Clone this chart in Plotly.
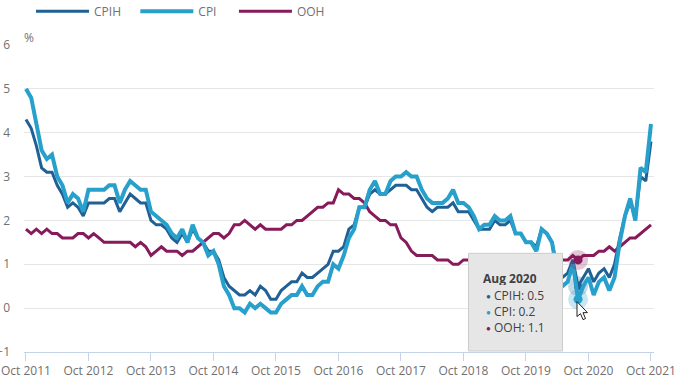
import pandas as pd
import plotly.graph_objects as go

months = pd.date_range("2011-10-01", "2021-10-01", freq="MS").strftime("%b %Y").tolist()
tick_labels = [f"Oct {y}" for y in range(2011, 2022)]

cpih = [4.3,4.1,3.7,3.2,3.1,3.1,2.8,2.6,2.3,2.4,2.3,2.1,2.4,2.4,2.4,
        2.4,2.5,2.5,2.2,2.4,2.6,2.5,2.4,2.4,2.0,1.9,1.9,1.8,1.6,1.5,1.7,1.5,1.8,1.6,1.5,1.3,
        1.3,1.1,0.7,0.5,0.4,0.3,0.3,0.4,0.3,0.5,0.4,0.2,0.2,0.4,0.5,0.6,0.6,0.8,0.7,0.7,0.8,0.9,1.0,1.3,
        1.3,1.4,1.8,1.9,2.3,2.3,2.6,2.7,2.6,2.6,2.7,2.8,2.8,2.8,2.7,2.7,2.5,2.3,2.2,2.3,2.3,2.3,2.4,2.2,
        2.2,2.2,2.0,1.8,1.8,1.8,2.0,1.9,1.9,2.0,1.7,1.7,1.5,1.5,1.4,1.8,1.7,1.5,0.9,0.7,0.8,1.1,0.5,0.7,
        0.9,0.6,0.8,0.9,0.7,1.0,1.6,2.1,2.4,2.1,3.0,2.9,3.8]
cpi = [5.0,4.8,4.2,3.6,3.4,3.5,3.0,2.8,2.4,2.6,2.5,2.2,2.7,2.7,2.7,
       2.7,2.8,2.8,2.4,2.7,2.9,2.8,2.7,2.7,2.2,2.1,2.0,1.9,1.7,1.6,1.8,1.5,1.9,1.6,1.5,1.2,
       1.3,1.0,0.5,0.3,0.0,0.0,-0.1,0.1,0.0,0.1,0.0,-0.1,-0.1,0.1,0.2,0.3,0.3,0.5,0.3,0.3,0.5,0.6,0.6,1.0,
       0.9,1.2,1.6,1.8,2.3,2.3,2.7,2.9,2.6,2.6,2.9,3.0,3.0,3.1,3.0,3.0,2.7,2.5,2.4,2.4,2.4,2.5,2.7,2.4,
       2.4,2.3,2.1,1.8,1.9,1.9,2.1,2.0,2.0,2.1,1.7,1.7,1.5,1.5,1.3,1.8,1.7,1.5,0.8,0.5,0.6,1.0,0.2,0.5,
       0.7,0.3,0.6,0.7,0.4,0.7,1.5,2.1,2.5,2.0,3.2,3.1,4.2]
ooh = [1.8,1.7,1.8,1.7,1.8,1.7,1.7,1.6,1.6,1.6,1.7,1.7,1.6,1.7,1.6,
       1.5,1.5,1.5,1.5,1.5,1.5,1.4,1.5,1.4,1.2,1.3,1.4,1.3,1.3,1.3,1.2,1.3,1.3,1.4,1.5,1.6,
       1.7,1.7,1.6,1.7,1.9,1.9,2.0,1.9,1.8,1.9,1.8,1.8,1.8,1.8,1.9,1.9,2.0,2.0,2.1,2.2,2.3,2.3,2.4,2.4,
       2.7,2.6,2.6,2.5,2.5,2.4,2.2,2.1,2.0,2.0,1.9,1.9,1.6,1.5,1.3,1.2,1.2,1.2,1.2,1.1,1.1,1.1,1.0,1.0,
       1.1,1.1,1.1,1.1,1.1,1.1,1.1,1.1,1.1,1.2,1.2,1.2,1.2,1.2,1.2,1.2,1.2,1.2,1.2,1.1,1.1,1.2,1.1,1.2,
       1.2,1.2,1.3,1.3,1.4,1.3,1.4,1.5,1.6,1.6,1.7,1.8,1.9]

hover_month = "Aug 2020"
idx = months.index(hover_month)
C_CPIH, C_CPI, C_OOH = "#206095", "#27a0cc", "#871a5b"
NB = "\u00a0"

fig = go.Figure()
def add_line(name, vals, col, w, rank):
    fig.add_trace(go.Scatter(x=months, y=vals, mode="lines", name=name, legendrank=rank,
                             line=dict(color=col, width=w, shape="linear"), hoverinfo="skip"))
def add_dot(vals, col, size, opacity=1.0):
    fig.add_trace(go.Scatter(x=[hover_month], y=[vals[idx]], mode="markers", showlegend=False, hoverinfo="skip",
                             marker=dict(color=col, size=size, opacity=opacity, line=dict(width=0))))

add_line("OOH", ooh, C_OOH, 3, 3)
add_line("CPIH" + NB * 3, cpih, C_CPIH, 3, 1)
add_dot(cpih, C_CPIH, 20, 0.25)
add_dot(cpih, C_CPIH, 8)
add_line("CPI" + NB * 4, cpi, C_CPI, 4, 2)
add_dot(cpi, C_CPI, 20, 0.25)
add_dot(cpi, C_CPI, 9)
add_dot(ooh, C_OOH, 20, 0.25)
add_dot(ooh, C_OOH, 9)

L, R, T, B = 24, 654, 44.5, 352.5
W, H = 683, 386
def px(x): return (x - L) / (R - L)
def py(y): return (B - y) / (B - T)

cursor = [(0,0),(0,15),(3.5,12),(6,18),(8.5,17),(6,11),(10.5,11)]
ox, oy = 577, 302
cursor_path = "M " + " L ".join(f"{px(ox+a):.4f},{py(oy+b):.4f}" for a, b in cursor) + " Z"

shapes = [
    dict(type="rect", xref="paper", yref="paper", x0=px(468.5), x1=px(562.5), y0=py(351.5), y1=py(253.5),
         fillcolor="#e6e6e6", line=dict(color="#cccccc", width=1), layer="above"),
    dict(type="path", xref="paper", yref="paper", path=cursor_path, fillcolor="#ffffff",
         line=dict(color="#222222", width=1), layer="above"),
]
tip_rows = [
    (py(278), f"<b>{hover_month}</b>", None),
    (py(295.5), f"CPIH: {cpih[idx]}", C_CPIH),
    (py(311.5), f"CPI: {cpi[idx]}", C_CPI),
    (py(327.5), f"OOH: {ooh[idx]}", C_OOH),
]
annotations = [dict(text="%", xref="paper", yref="paper", x=px(24), y=py(37), xanchor="left", yanchor="middle",
                    showarrow=False, font=dict(size=12, color="#707071"), xshift=-2)]
for y, text, col in tip_rows:
    annotations.append(dict(text=text, xref="paper", yref="paper", x=px(493 if col else 482), y=y,
                            xanchor="left", yanchor="middle", showarrow=False, borderpad=0, height=14,
                            font=dict(size=12, color="#414042")))
    if col:
        annotations.append(dict(text="●", xref="paper", yref="paper", x=px(488.5), y=y, xanchor="center",
                                yanchor="middle", showarrow=False, borderpad=0, height=12,
                                font=dict(size=8, color=col)))

fig.update_layout(
    width=W, height=H, autosize=False,
    margin=dict(l=L, r=W - R, t=T, b=H - B, pad=0, autoexpand=False),
    paper_bgcolor="white", plot_bgcolor="white",
    font=dict(family="Open Sans, sans-serif", size=12, color="#707071"),
    hovermode=False,
    shapes=shapes, annotations=annotations,
    legend=dict(orientation="h", x=px(31), y=py(-4), xref="paper", yref="paper", yanchor="top", xanchor="left",
                itemwidth=53, font=dict(size=12, color="#707071"), traceorder="normal", bgcolor="rgba(0,0,0,0)",
                itemclick=False, itemdoubleclick=False),
    xaxis=dict(type="category", categoryorder="array", categoryarray=months, automargin=False,
               range=[-0.38, 120.58], tickmode="array", tickvals=tick_labels, ticktext=tick_labels,
               tickangle=0, showgrid=False, ticks="outside", ticklen=8, tickcolor="#c5d3e8", tickwidth=1,
               showline=True, linecolor="#c5d3e8", linewidth=1, zeroline=False,
               tickfont=dict(size=12, color="#707071")),
    yaxis=dict(range=[-1, 6], tickmode="array", tickvals=[-1,0,1,2,3,4,5,6], showgrid=True, automargin=False,
               gridcolor="#e6e6e6", gridwidth=1, zeroline=False, showline=False, ticks="",
               ticklabelstandoff=13, tickfont=dict(size=12, color="#707071")),
)
fig.write_html("out.html", post_script="document.body.style.margin='0';", config={"displayModeBar": False})
